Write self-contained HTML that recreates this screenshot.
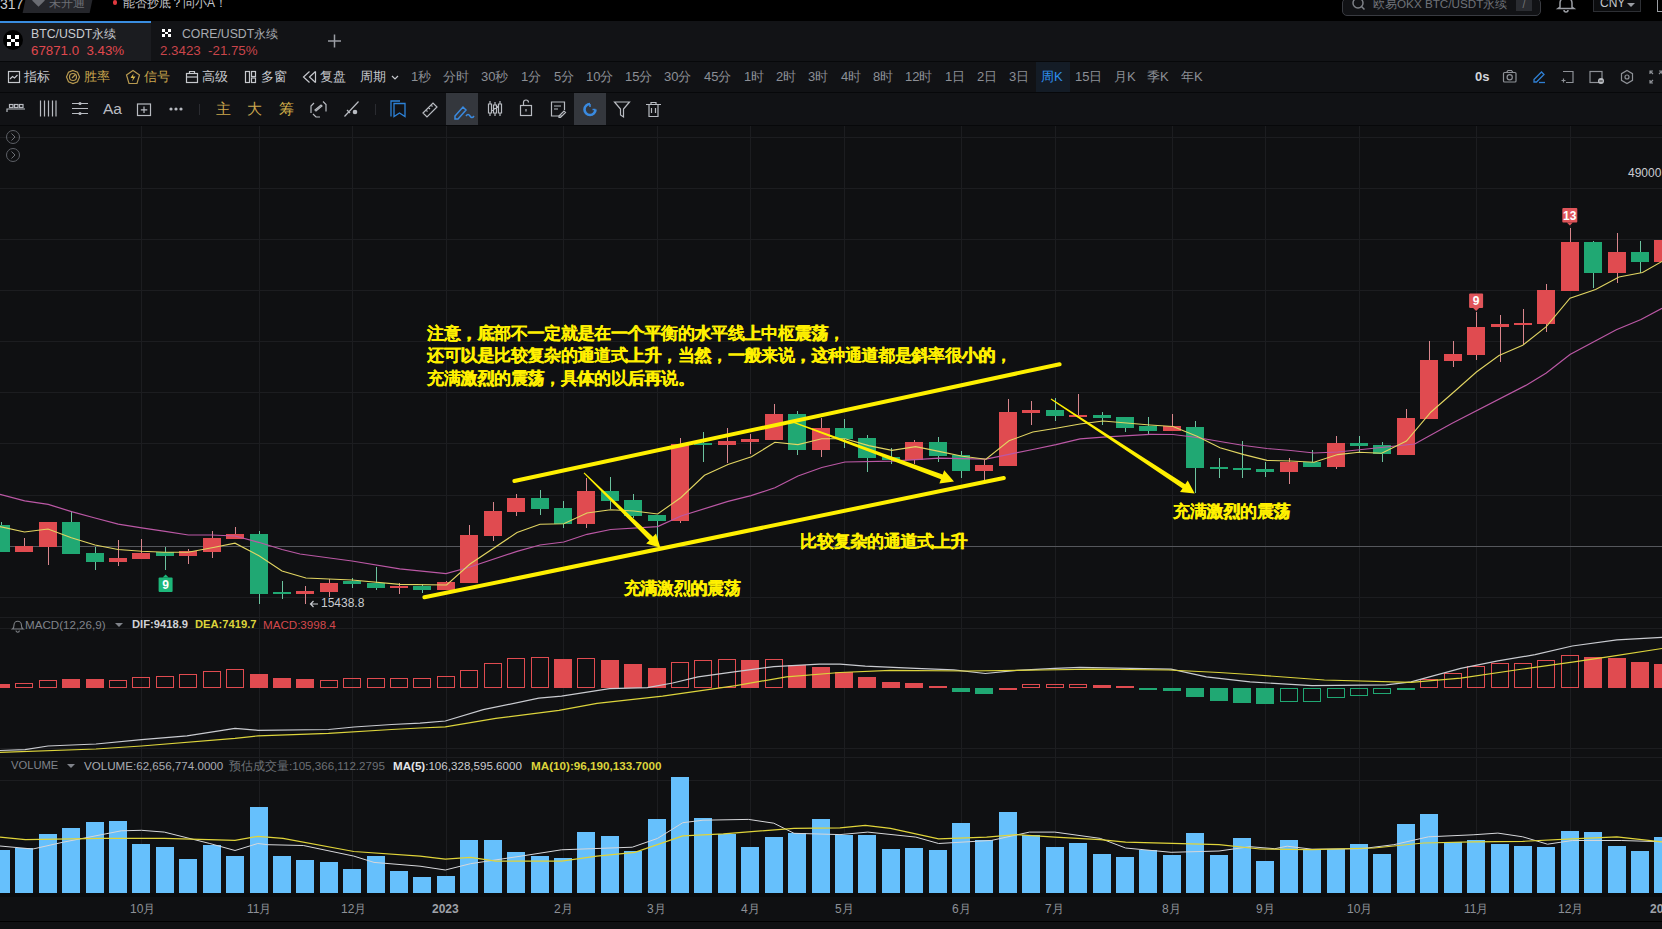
<!DOCTYPE html>
<html><head><meta charset="utf-8">
<style>
*{margin:0;padding:0;box-sizing:border-box}
html,body{width:1662px;height:929px;overflow:hidden;background:#0f1012;font-family:"Liberation Sans",sans-serif}
.a{position:absolute;white-space:nowrap}
#top{left:0;top:0;width:1662px;height:21px;background:#000}
#tabs{left:0;top:21px;width:1662px;height:41px;background:#121316}
#tb1{left:0;top:62px;width:1662px;height:30px;background:#111215}
#tb2{left:0;top:93px;width:1662px;height:32px;background:#111215}
.tf{top:70px;font-size:13px;color:#8c8f96;line-height:14px}
.t1{top:70px;font-size:13px;color:#c6c8cd;line-height:14px}
.gold{color:#cba74e}
.ann{font-size:16.7px;letter-spacing:-0.3px;font-weight:bold;color:#fff000;line-height:22.5px;text-shadow:0.4px 0 0 #fff000}
.xl{top:902.5px;font-size:12px;color:#8d9097;line-height:13px}
svg{position:absolute;left:0;top:0}
</style></head><body>
<div class="a" id="top"></div>
<div class="a" id="tabs"></div>
<div class="a" style="left:0;top:23px;width:151px;height:38px;background:#1b1c20"></div>
<div class="a" style="left:0;top:21px;width:151px;height:2px;background:#3a8de0"></div>
<div class="a" id="tb1"></div>
<div class="a" id="tb2"></div>
<div class="a" style="left:0;top:125px;width:1662px;height:1px;background:#07080a"></div>
<div class="a" style="left:0;top:92px;width:1662px;height:1px;background:#07080a"></div>
<div class="a" style="left:0;top:61px;width:1662px;height:1px;background:#07080a"></div>
<div class="a" style="left:0;top:893px;width:1662px;height:4px;background:#0a0b0d"></div>
<div class="a" style="left:0;top:921px;width:1662px;height:1px;background:#000"></div>

<svg width="1662" height="929" viewBox="0 0 1662 929">
<line x1="0" y1="137.5" x2="1662" y2="137.5" stroke="#1c1d20" stroke-width="1"/>
<line x1="0" y1="188.5" x2="1662" y2="188.5" stroke="#1c1d20" stroke-width="1"/>
<line x1="0" y1="239.5" x2="1662" y2="239.5" stroke="#1c1d20" stroke-width="1"/>
<line x1="0" y1="290.5" x2="1662" y2="290.5" stroke="#1c1d20" stroke-width="1"/>
<line x1="0" y1="341.5" x2="1662" y2="341.5" stroke="#1c1d20" stroke-width="1"/>
<line x1="0" y1="392.5" x2="1662" y2="392.5" stroke="#1c1d20" stroke-width="1"/>
<line x1="0" y1="443.5" x2="1662" y2="443.5" stroke="#1c1d20" stroke-width="1"/>
<line x1="0" y1="495.5" x2="1662" y2="495.5" stroke="#1c1d20" stroke-width="1"/>
<line x1="0" y1="597.5" x2="1662" y2="597.5" stroke="#1c1d20" stroke-width="1"/>
<line x1="0" y1="617.5" x2="1662" y2="617.5" stroke="#1c1d20" stroke-width="1"/>
<line x1="0" y1="628.5" x2="1662" y2="628.5" stroke="#1c1d20" stroke-width="1"/>
<line x1="0" y1="748.5" x2="1662" y2="748.5" stroke="#1c1d20" stroke-width="1"/>
<line x1="0" y1="757.5" x2="1662" y2="757.5" stroke="#1c1d20" stroke-width="1"/>
<line x1="0" y1="780.5" x2="1662" y2="780.5" stroke="#1c1d20" stroke-width="1"/>
<line x1="141.5" y1="126" x2="141.5" y2="893" stroke="#1c1d20" stroke-width="1"/>
<line x1="259.5" y1="126" x2="259.5" y2="893" stroke="#1c1d20" stroke-width="1"/>
<line x1="352.5" y1="126" x2="352.5" y2="893" stroke="#1c1d20" stroke-width="1"/>
<line x1="446.5" y1="126" x2="446.5" y2="893" stroke="#1c1d20" stroke-width="1"/>
<line x1="563.5" y1="126" x2="563.5" y2="893" stroke="#1c1d20" stroke-width="1"/>
<line x1="657.5" y1="126" x2="657.5" y2="893" stroke="#1c1d20" stroke-width="1"/>
<line x1="750.5" y1="126" x2="750.5" y2="893" stroke="#1c1d20" stroke-width="1"/>
<line x1="844.5" y1="126" x2="844.5" y2="893" stroke="#1c1d20" stroke-width="1"/>
<line x1="961.5" y1="126" x2="961.5" y2="893" stroke="#1c1d20" stroke-width="1"/>
<line x1="1055.5" y1="126" x2="1055.5" y2="893" stroke="#1c1d20" stroke-width="1"/>
<line x1="1172.5" y1="126" x2="1172.5" y2="893" stroke="#1c1d20" stroke-width="1"/>
<line x1="1265.5" y1="126" x2="1265.5" y2="893" stroke="#1c1d20" stroke-width="1"/>
<line x1="1359.5" y1="126" x2="1359.5" y2="893" stroke="#1c1d20" stroke-width="1"/>
<line x1="1476.5" y1="126" x2="1476.5" y2="893" stroke="#1c1d20" stroke-width="1"/>
<line x1="1570.5" y1="126" x2="1570.5" y2="893" stroke="#1c1d20" stroke-width="1"/>
<line x1="0" y1="546.5" x2="1662" y2="546.5" stroke="#55575c" stroke-width="1"/>
<rect x="1" y="522" width="1" height="30" fill="#6cc39f"/>
<rect x="-8" y="525" width="18" height="27" fill="#20a873"/>
<rect x="24" y="538" width="1" height="14" fill="#d9868c"/>
<rect x="15" y="546" width="18" height="6" fill="#e04b50"/>
<rect x="48" y="522" width="1" height="43" fill="#d9868c"/>
<rect x="39" y="522" width="18" height="25" fill="#e04b50"/>
<rect x="71" y="511" width="1" height="43" fill="#6cc39f"/>
<rect x="62" y="522" width="18" height="32" fill="#20a873"/>
<rect x="95" y="547" width="1" height="23" fill="#6cc39f"/>
<rect x="86" y="553" width="18" height="9" fill="#20a873"/>
<rect x="118" y="540" width="1" height="26" fill="#d9868c"/>
<rect x="109" y="558" width="18" height="4" fill="#e04b50"/>
<rect x="141" y="539" width="1" height="20" fill="#d9868c"/>
<rect x="132" y="553" width="18" height="6" fill="#e04b50"/>
<rect x="165" y="547" width="1" height="23" fill="#6cc39f"/>
<rect x="156" y="552" width="18" height="4" fill="#20a873"/>
<rect x="188" y="549" width="1" height="15" fill="#d9868c"/>
<rect x="179" y="551" width="18" height="5" fill="#e04b50"/>
<rect x="212" y="531" width="1" height="27" fill="#d9868c"/>
<rect x="203" y="538" width="18" height="14" fill="#e04b50"/>
<rect x="235" y="527" width="1" height="12" fill="#d9868c"/>
<rect x="226" y="534" width="18" height="5" fill="#e04b50"/>
<rect x="259" y="531" width="1" height="73" fill="#6cc39f"/>
<rect x="250" y="534" width="18" height="60" fill="#20a873"/>
<rect x="282" y="581" width="1" height="18" fill="#6cc39f"/>
<rect x="273" y="592" width="18" height="2" fill="#20a873"/>
<rect x="305" y="586" width="1" height="18" fill="#d9868c"/>
<rect x="296" y="591" width="18" height="3" fill="#e04b50"/>
<rect x="329" y="579" width="1" height="18" fill="#d9868c"/>
<rect x="320" y="583" width="18" height="9" fill="#e04b50"/>
<rect x="352" y="578" width="1" height="10" fill="#6cc39f"/>
<rect x="343" y="581" width="18" height="3" fill="#20a873"/>
<rect x="376" y="567" width="1" height="23" fill="#6cc39f"/>
<rect x="367" y="583" width="18" height="5" fill="#20a873"/>
<rect x="399" y="583" width="1" height="11" fill="#d9868c"/>
<rect x="390" y="586" width="18" height="2" fill="#e04b50"/>
<rect x="422" y="584" width="1" height="9" fill="#6cc39f"/>
<rect x="413" y="586" width="18" height="4" fill="#20a873"/>
<rect x="446" y="581" width="1" height="9" fill="#d9868c"/>
<rect x="437" y="582" width="18" height="8" fill="#e04b50"/>
<rect x="469" y="525" width="1" height="58" fill="#d9868c"/>
<rect x="460" y="535" width="18" height="48" fill="#e04b50"/>
<rect x="493" y="502" width="1" height="39" fill="#d9868c"/>
<rect x="484" y="511" width="18" height="25" fill="#e04b50"/>
<rect x="516" y="494" width="1" height="22" fill="#d9868c"/>
<rect x="507" y="498" width="18" height="14" fill="#e04b50"/>
<rect x="540" y="490" width="1" height="25" fill="#6cc39f"/>
<rect x="531" y="498" width="18" height="11" fill="#20a873"/>
<rect x="563" y="501" width="1" height="27" fill="#6cc39f"/>
<rect x="554" y="508" width="18" height="16" fill="#20a873"/>
<rect x="586" y="478" width="1" height="50" fill="#d9868c"/>
<rect x="577" y="491" width="18" height="33" fill="#e04b50"/>
<rect x="610" y="477" width="1" height="32" fill="#6cc39f"/>
<rect x="601" y="491" width="18" height="10" fill="#20a873"/>
<rect x="633" y="494" width="1" height="24" fill="#6cc39f"/>
<rect x="624" y="500" width="18" height="16" fill="#20a873"/>
<rect x="657" y="515" width="1" height="25" fill="#6cc39f"/>
<rect x="648" y="515" width="18" height="6" fill="#20a873"/>
<rect x="680" y="438" width="1" height="85" fill="#d9868c"/>
<rect x="671" y="444" width="18" height="77" fill="#e04b50"/>
<rect x="703" y="432" width="1" height="30" fill="#6cc39f"/>
<rect x="694" y="443" width="18" height="2" fill="#20a873"/>
<rect x="727" y="428" width="1" height="35" fill="#d9868c"/>
<rect x="718" y="441" width="18" height="4" fill="#e04b50"/>
<rect x="750" y="434" width="1" height="20" fill="#d9868c"/>
<rect x="741" y="439" width="18" height="3" fill="#e04b50"/>
<rect x="774" y="404" width="1" height="36" fill="#d9868c"/>
<rect x="765" y="414" width="18" height="26" fill="#e04b50"/>
<rect x="797" y="411" width="1" height="44" fill="#6cc39f"/>
<rect x="788" y="414" width="18" height="36" fill="#20a873"/>
<rect x="821" y="418" width="1" height="39" fill="#d9868c"/>
<rect x="812" y="428" width="18" height="22" fill="#e04b50"/>
<rect x="844" y="419" width="1" height="29" fill="#6cc39f"/>
<rect x="835" y="428" width="18" height="11" fill="#20a873"/>
<rect x="867" y="435" width="1" height="37" fill="#6cc39f"/>
<rect x="858" y="438" width="18" height="20" fill="#20a873"/>
<rect x="891" y="448" width="1" height="16" fill="#6cc39f"/>
<rect x="882" y="457" width="18" height="3" fill="#20a873"/>
<rect x="914" y="440" width="1" height="24" fill="#d9868c"/>
<rect x="905" y="442" width="18" height="18" fill="#e04b50"/>
<rect x="938" y="437" width="1" height="25" fill="#6cc39f"/>
<rect x="929" y="442" width="18" height="14" fill="#20a873"/>
<rect x="961" y="451" width="1" height="27" fill="#6cc39f"/>
<rect x="952" y="455" width="18" height="16" fill="#20a873"/>
<rect x="984" y="460" width="1" height="24" fill="#d9868c"/>
<rect x="975" y="465" width="18" height="6" fill="#e04b50"/>
<rect x="1008" y="399" width="1" height="67" fill="#d9868c"/>
<rect x="999" y="412" width="18" height="54" fill="#e04b50"/>
<rect x="1031" y="401" width="1" height="24" fill="#d9868c"/>
<rect x="1022" y="410" width="18" height="3" fill="#e04b50"/>
<rect x="1055" y="398" width="1" height="23" fill="#6cc39f"/>
<rect x="1046" y="410" width="18" height="6" fill="#20a873"/>
<rect x="1078" y="394" width="1" height="23" fill="#d9868c"/>
<rect x="1069" y="415" width="18" height="2" fill="#e04b50"/>
<rect x="1102" y="412" width="1" height="13" fill="#6cc39f"/>
<rect x="1093" y="415" width="18" height="3" fill="#20a873"/>
<rect x="1125" y="417" width="1" height="15" fill="#6cc39f"/>
<rect x="1116" y="417" width="18" height="11" fill="#20a873"/>
<rect x="1148" y="417" width="1" height="18" fill="#6cc39f"/>
<rect x="1139" y="426" width="18" height="5" fill="#20a873"/>
<rect x="1172" y="414" width="1" height="17" fill="#d9868c"/>
<rect x="1163" y="426" width="18" height="5" fill="#e04b50"/>
<rect x="1195" y="421" width="1" height="72" fill="#6cc39f"/>
<rect x="1186" y="427" width="18" height="41" fill="#20a873"/>
<rect x="1219" y="458" width="1" height="20" fill="#6cc39f"/>
<rect x="1210" y="467" width="18" height="2" fill="#20a873"/>
<rect x="1242" y="441" width="1" height="37" fill="#6cc39f"/>
<rect x="1233" y="468" width="18" height="2" fill="#20a873"/>
<rect x="1265" y="462" width="1" height="15" fill="#6cc39f"/>
<rect x="1256" y="469" width="18" height="3" fill="#20a873"/>
<rect x="1289" y="458" width="1" height="26" fill="#d9868c"/>
<rect x="1280" y="462" width="18" height="10" fill="#e04b50"/>
<rect x="1312" y="450" width="1" height="17" fill="#6cc39f"/>
<rect x="1303" y="462" width="18" height="5" fill="#20a873"/>
<rect x="1336" y="436" width="1" height="33" fill="#d9868c"/>
<rect x="1327" y="443" width="18" height="24" fill="#e04b50"/>
<rect x="1359" y="436" width="1" height="17" fill="#6cc39f"/>
<rect x="1350" y="443" width="18" height="3" fill="#20a873"/>
<rect x="1382" y="442" width="1" height="20" fill="#6cc39f"/>
<rect x="1373" y="445" width="18" height="9" fill="#20a873"/>
<rect x="1406" y="409" width="1" height="46" fill="#d9868c"/>
<rect x="1397" y="418" width="18" height="37" fill="#e04b50"/>
<rect x="1429" y="341" width="1" height="78" fill="#d9868c"/>
<rect x="1420" y="360" width="18" height="59" fill="#e04b50"/>
<rect x="1453" y="341" width="1" height="26" fill="#d9868c"/>
<rect x="1444" y="354" width="18" height="7" fill="#e04b50"/>
<rect x="1476" y="312" width="1" height="48" fill="#d9868c"/>
<rect x="1467" y="327" width="18" height="28" fill="#e04b50"/>
<rect x="1500" y="315" width="1" height="47" fill="#d9868c"/>
<rect x="1491" y="324" width="18" height="3" fill="#e04b50"/>
<rect x="1523" y="309" width="1" height="36" fill="#d9868c"/>
<rect x="1514" y="323" width="18" height="2" fill="#e04b50"/>
<rect x="1546" y="284" width="1" height="48" fill="#d9868c"/>
<rect x="1537" y="290" width="18" height="34" fill="#e04b50"/>
<rect x="1570" y="228" width="1" height="63" fill="#d9868c"/>
<rect x="1561" y="242" width="18" height="49" fill="#e04b50"/>
<rect x="1593" y="241" width="1" height="47" fill="#6cc39f"/>
<rect x="1584" y="242" width="18" height="31" fill="#20a873"/>
<rect x="1617" y="233" width="1" height="50" fill="#d9868c"/>
<rect x="1608" y="252" width="18" height="21" fill="#e04b50"/>
<rect x="1640" y="241" width="1" height="32" fill="#6cc39f"/>
<rect x="1631" y="252" width="18" height="10" fill="#20a873"/>
<rect x="1663" y="232" width="1" height="30" fill="#d9868c"/>
<rect x="1654" y="240" width="18" height="22" fill="#e04b50"/>
<polyline points="0,494.4 24.7,500.8 48.2,504.4 71.5,511.6 95,518 118.2,524.2 141.7,527.8 165.2,531.4 188.4,535 211.7,535 235.2,536 258.7,542.3 282.1,549.5 300,554 352,561 399.7,568.8 446,573.7 470,567 517,551.4 540,545 563.8,542 587,534.3 610.7,529.5 657.6,526.6 681,516 728,501.4 751,495.6 774.9,487.8 798,476 821.8,467.5 845,462 892,461.1 939,458.2 985.9,459.2 1009,454.3 1032.8,449.5 1056,444.6 1080,438.8 1103,437.2 1150,434.3 1173,434.5 1197,437.5 1220,441.5 1243.9,445.5 1267,448.5 1290.8,450.5 1314,453 1337.7,452 1414.7,444 1451.7,423.5 1525.8,385.4 1546.3,373 1570,354.5 1616.3,329.8 1641,319.5 1662,308.2" fill="none" stroke="#bb58a5" stroke-width="1.2"/>
<polyline points="0,526.6 24.5,532 48,529 71.4,537.8 95,545 118,549.5 141.7,551.3 165,552.2 188,552.2 212,547.7 235,543.2 259,555.8 282,571 305.9,578 352,580 399.7,584.4 446.6,585 470,564 517,532.6 540,524.3 563.8,523.7 587,513 610.7,509.7 634,511 657.6,514 681,497.5 704.5,475.3 728,464.6 751.4,456.8 774.9,442.3 798,444.6 821.8,438.8 845,438.8 868.7,445.6 892,450.4 915.6,446.6 939,451.4 962.5,456.3 985.9,459.2 1009,440.8 1032.8,432 1056,428.2 1080,424 1103,421 1150,425 1173,426.5 1197,436.2 1220,447.8 1243.9,454.6 1267,460.4 1290.8,461 1314,462.3 1337.7,454.6 1359,452.3 1381.7,453.3 1406.4,441 1431,412 1455,391 1476.4,372 1499,355.6 1522.7,345.3 1546.3,326.7 1570,298.2 1595.6,289.5 1619,277 1642.5,272.5 1662,261.4" fill="none" stroke="#e2d562" stroke-width="1.1"/>
<rect x="-8" y="684" width="18" height="4" fill="#e04b50"/>
<rect x="15.5" y="683.5" width="17" height="4" fill="none" stroke="#e04b50" stroke-width="1"/>
<rect x="39.5" y="680.5" width="17" height="7" fill="none" stroke="#e04b50" stroke-width="1"/>
<rect x="62" y="679" width="18" height="9" fill="#e04b50"/>
<rect x="86" y="679" width="18" height="9" fill="#e04b50"/>
<rect x="109.5" y="680.5" width="17" height="7" fill="none" stroke="#e04b50" stroke-width="1"/>
<rect x="132.5" y="677.5" width="17" height="10" fill="none" stroke="#e04b50" stroke-width="1"/>
<rect x="156.5" y="676.5" width="17" height="11" fill="none" stroke="#e04b50" stroke-width="1"/>
<rect x="179.5" y="674.5" width="17" height="13" fill="none" stroke="#e04b50" stroke-width="1"/>
<rect x="203.5" y="671.5" width="17" height="16" fill="none" stroke="#e04b50" stroke-width="1"/>
<rect x="226.5" y="669.5" width="17" height="18" fill="none" stroke="#e04b50" stroke-width="1"/>
<rect x="250" y="674" width="18" height="14" fill="#e04b50"/>
<rect x="273" y="678" width="18" height="10" fill="#e04b50"/>
<rect x="296" y="679" width="18" height="9" fill="#e04b50"/>
<rect x="320.5" y="680.5" width="17" height="7" fill="none" stroke="#e04b50" stroke-width="1"/>
<rect x="343.5" y="678.5" width="17" height="9" fill="none" stroke="#e04b50" stroke-width="1"/>
<rect x="367.5" y="678.5" width="17" height="9" fill="none" stroke="#e04b50" stroke-width="1"/>
<rect x="390.5" y="678.5" width="17" height="9" fill="none" stroke="#e04b50" stroke-width="1"/>
<rect x="413.5" y="678.5" width="17" height="9" fill="none" stroke="#e04b50" stroke-width="1"/>
<rect x="437.5" y="676.5" width="17" height="11" fill="none" stroke="#e04b50" stroke-width="1"/>
<rect x="460.5" y="670.5" width="17" height="17" fill="none" stroke="#e04b50" stroke-width="1"/>
<rect x="484.5" y="663.5" width="17" height="24" fill="none" stroke="#e04b50" stroke-width="1"/>
<rect x="507.5" y="658.5" width="17" height="29" fill="none" stroke="#e04b50" stroke-width="1"/>
<rect x="531.5" y="657.5" width="17" height="30" fill="none" stroke="#e04b50" stroke-width="1"/>
<rect x="554" y="659" width="18" height="29" fill="#e04b50"/>
<rect x="577.5" y="658.5" width="17" height="29" fill="none" stroke="#e04b50" stroke-width="1"/>
<rect x="601" y="660" width="18" height="28" fill="#e04b50"/>
<rect x="624" y="664" width="18" height="24" fill="#e04b50"/>
<rect x="648" y="668" width="18" height="20" fill="#e04b50"/>
<rect x="671.5" y="662.5" width="17" height="25" fill="none" stroke="#e04b50" stroke-width="1"/>
<rect x="694.5" y="660.5" width="17" height="27" fill="none" stroke="#e04b50" stroke-width="1"/>
<rect x="718.5" y="659.5" width="17" height="28" fill="none" stroke="#e04b50" stroke-width="1"/>
<rect x="741" y="660" width="18" height="28" fill="#e04b50"/>
<rect x="765.5" y="659.5" width="17" height="28" fill="none" stroke="#e04b50" stroke-width="1"/>
<rect x="788" y="665" width="18" height="23" fill="#e04b50"/>
<rect x="812" y="667" width="18" height="21" fill="#e04b50"/>
<rect x="835" y="672" width="18" height="16" fill="#e04b50"/>
<rect x="858" y="677" width="18" height="11" fill="#e04b50"/>
<rect x="882" y="682" width="18" height="6" fill="#e04b50"/>
<rect x="905" y="683" width="18" height="5" fill="#e04b50"/>
<rect x="929" y="686" width="18" height="2" fill="#e04b50"/>
<rect x="952" y="688" width="18" height="4" fill="#20a873"/>
<rect x="975" y="688" width="18" height="6" fill="#20a873"/>
<rect x="999" y="688" width="18" height="2" fill="#e04b50"/>
<rect x="1022.5" y="684.5" width="17" height="3" fill="none" stroke="#e04b50" stroke-width="1"/>
<rect x="1046.5" y="684.5" width="17" height="3" fill="none" stroke="#e04b50" stroke-width="1"/>
<rect x="1069.5" y="684.5" width="17" height="3" fill="none" stroke="#e04b50" stroke-width="1"/>
<rect x="1093" y="685" width="18" height="3" fill="#e04b50"/>
<rect x="1116" y="686" width="18" height="2" fill="#e04b50"/>
<rect x="1139" y="688" width="18" height="2" fill="#20a873"/>
<rect x="1163" y="688" width="18" height="3" fill="#20a873"/>
<rect x="1186" y="688" width="18" height="9" fill="#20a873"/>
<rect x="1210" y="688" width="18" height="13" fill="#20a873"/>
<rect x="1233" y="688" width="18" height="15" fill="#20a873"/>
<rect x="1256" y="688" width="18" height="16" fill="#20a873"/>
<rect x="1280.5" y="688.5" width="17" height="13" fill="none" stroke="#20a873" stroke-width="1"/>
<rect x="1303.5" y="688.5" width="17" height="13" fill="none" stroke="#20a873" stroke-width="1"/>
<rect x="1327.5" y="688.5" width="17" height="9" fill="none" stroke="#20a873" stroke-width="1"/>
<rect x="1350.5" y="688.5" width="17" height="7" fill="none" stroke="#20a873" stroke-width="1"/>
<rect x="1373.5" y="688.5" width="17" height="5" fill="none" stroke="#20a873" stroke-width="1"/>
<rect x="1397" y="688" width="18" height="2" fill="#20a873"/>
<rect x="1420.5" y="679.5" width="17" height="8" fill="none" stroke="#e04b50" stroke-width="1"/>
<rect x="1444.5" y="673.5" width="17" height="14" fill="none" stroke="#e04b50" stroke-width="1"/>
<rect x="1467.5" y="666.5" width="17" height="21" fill="none" stroke="#e04b50" stroke-width="1"/>
<rect x="1491.5" y="663.5" width="17" height="24" fill="none" stroke="#e04b50" stroke-width="1"/>
<rect x="1514.5" y="663.5" width="17" height="24" fill="none" stroke="#e04b50" stroke-width="1"/>
<rect x="1537.5" y="660.5" width="17" height="27" fill="none" stroke="#e04b50" stroke-width="1"/>
<rect x="1561.5" y="655.5" width="17" height="32" fill="none" stroke="#e04b50" stroke-width="1"/>
<rect x="1584" y="657" width="18" height="31" fill="#e04b50"/>
<rect x="1608" y="658" width="18" height="30" fill="#e04b50"/>
<rect x="1631" y="662" width="18" height="26" fill="#e04b50"/>
<rect x="1654" y="664" width="18" height="24" fill="#e04b50"/>
<polyline points="0,750.5 25,749.7 48,746 96,744 141.5,739.6 187,735.8 235,728.3 258,730.3 328.5,729.5 354,727 391.7,724.5 420,723.2 445.3,721 483.2,709.6 538.8,698.2 561.5,696.2 609.5,688.6 647.4,687.6 672.7,683 698,676.8 735.9,671.7 773.8,666.6 819.3,664.1 840,664.1 865.3,666.1 915.8,668.4 953.7,669.9 985.3,673.5 1016.9,670.4 1054.8,668.4 1080.1,667.4 1130.6,668.4 1171.1,669.2 1206.4,676.8 1250,681.9 1312,685.7 1386.3,684.9 1411.1,681.9 1460.7,668.3 1497.9,660.9 1535.1,654.7 1572.3,646 1616.9,639.8 1662,637.3" fill="none" stroke="#c9cbd0" stroke-width="1.2"/>
<polyline points="0,752.3 96,749 141.5,746 235,738.4 258,735.8 328.5,733.3 391.7,729.5 420,728 445.3,726.8 495.8,718.4 559,710.4 597,703.3 662.6,696.2 735.9,685.6 786.4,676.8 840,672.5 890.5,670.4 966.4,671 1042.2,670 1092.7,669.2 1168.5,670 1219,672.5 1250,674.5 1324.4,680 1411.1,682.4 1460.7,678.2 1522.7,669 1572.3,662.1 1609.5,656.6 1662,648.5" fill="none" stroke="#dcd43c" stroke-width="1.2"/>
<rect x="-8" y="850" width="18" height="43" fill="#66c0fc"/>
<rect x="15" y="848" width="18" height="45" fill="#66c0fc"/>
<rect x="39" y="834" width="18" height="59" fill="#66c0fc"/>
<rect x="62" y="828" width="18" height="65" fill="#66c0fc"/>
<rect x="86" y="822" width="18" height="71" fill="#66c0fc"/>
<rect x="109" y="821" width="18" height="72" fill="#66c0fc"/>
<rect x="132" y="844" width="18" height="49" fill="#66c0fc"/>
<rect x="156" y="847" width="18" height="46" fill="#66c0fc"/>
<rect x="179" y="859" width="18" height="34" fill="#66c0fc"/>
<rect x="203" y="845" width="18" height="48" fill="#66c0fc"/>
<rect x="226" y="856" width="18" height="37" fill="#66c0fc"/>
<rect x="250" y="807" width="18" height="86" fill="#66c0fc"/>
<rect x="273" y="856" width="18" height="37" fill="#66c0fc"/>
<rect x="296" y="860" width="18" height="33" fill="#66c0fc"/>
<rect x="320" y="862" width="18" height="31" fill="#66c0fc"/>
<rect x="343" y="869" width="18" height="24" fill="#66c0fc"/>
<rect x="367" y="856" width="18" height="37" fill="#66c0fc"/>
<rect x="390" y="871" width="18" height="22" fill="#66c0fc"/>
<rect x="413" y="877" width="18" height="16" fill="#66c0fc"/>
<rect x="437" y="876" width="18" height="17" fill="#66c0fc"/>
<rect x="460" y="840" width="18" height="53" fill="#66c0fc"/>
<rect x="484" y="840" width="18" height="53" fill="#66c0fc"/>
<rect x="507" y="852" width="18" height="41" fill="#66c0fc"/>
<rect x="531" y="856" width="18" height="37" fill="#66c0fc"/>
<rect x="554" y="858" width="18" height="35" fill="#66c0fc"/>
<rect x="577" y="832" width="18" height="61" fill="#66c0fc"/>
<rect x="601" y="836" width="18" height="57" fill="#66c0fc"/>
<rect x="624" y="851" width="18" height="42" fill="#66c0fc"/>
<rect x="648" y="819" width="18" height="74" fill="#66c0fc"/>
<rect x="671" y="777" width="18" height="116" fill="#66c0fc"/>
<rect x="694" y="818" width="18" height="75" fill="#66c0fc"/>
<rect x="718" y="834" width="18" height="59" fill="#66c0fc"/>
<rect x="741" y="847" width="18" height="46" fill="#66c0fc"/>
<rect x="765" y="837" width="18" height="56" fill="#66c0fc"/>
<rect x="788" y="833" width="18" height="60" fill="#66c0fc"/>
<rect x="812" y="819" width="18" height="74" fill="#66c0fc"/>
<rect x="835" y="835" width="18" height="58" fill="#66c0fc"/>
<rect x="858" y="835" width="18" height="58" fill="#66c0fc"/>
<rect x="882" y="849" width="18" height="44" fill="#66c0fc"/>
<rect x="905" y="848" width="18" height="45" fill="#66c0fc"/>
<rect x="929" y="850" width="18" height="43" fill="#66c0fc"/>
<rect x="952" y="823" width="18" height="70" fill="#66c0fc"/>
<rect x="975" y="840" width="18" height="53" fill="#66c0fc"/>
<rect x="999" y="812" width="18" height="81" fill="#66c0fc"/>
<rect x="1022" y="835" width="18" height="58" fill="#66c0fc"/>
<rect x="1046" y="847" width="18" height="46" fill="#66c0fc"/>
<rect x="1069" y="843" width="18" height="50" fill="#66c0fc"/>
<rect x="1093" y="854" width="18" height="39" fill="#66c0fc"/>
<rect x="1116" y="857" width="18" height="36" fill="#66c0fc"/>
<rect x="1139" y="850" width="18" height="43" fill="#66c0fc"/>
<rect x="1163" y="855" width="18" height="38" fill="#66c0fc"/>
<rect x="1186" y="833" width="18" height="60" fill="#66c0fc"/>
<rect x="1210" y="855" width="18" height="38" fill="#66c0fc"/>
<rect x="1233" y="838" width="18" height="55" fill="#66c0fc"/>
<rect x="1256" y="861" width="18" height="32" fill="#66c0fc"/>
<rect x="1280" y="840" width="18" height="53" fill="#66c0fc"/>
<rect x="1303" y="849" width="18" height="44" fill="#66c0fc"/>
<rect x="1327" y="849" width="18" height="44" fill="#66c0fc"/>
<rect x="1350" y="844" width="18" height="49" fill="#66c0fc"/>
<rect x="1373" y="854" width="18" height="39" fill="#66c0fc"/>
<rect x="1397" y="824" width="18" height="69" fill="#66c0fc"/>
<rect x="1420" y="814" width="18" height="79" fill="#66c0fc"/>
<rect x="1444" y="842" width="18" height="51" fill="#66c0fc"/>
<rect x="1467" y="840" width="18" height="53" fill="#66c0fc"/>
<rect x="1491" y="844" width="18" height="49" fill="#66c0fc"/>
<rect x="1514" y="846" width="18" height="47" fill="#66c0fc"/>
<rect x="1537" y="847" width="18" height="46" fill="#66c0fc"/>
<rect x="1561" y="831" width="18" height="62" fill="#66c0fc"/>
<rect x="1584" y="832" width="18" height="61" fill="#66c0fc"/>
<rect x="1608" y="846" width="18" height="47" fill="#66c0fc"/>
<rect x="1631" y="851" width="18" height="42" fill="#66c0fc"/>
<rect x="1654" y="837" width="18" height="56" fill="#66c0fc"/>
<polyline points="0,846 32.9,849 63.2,842.2 121.3,830.8 141.5,830.3 164.3,832.1 209.8,843.5 235,850.5 257.8,843.5 267.9,844.7 303.3,845.5 353.8,856.1 374,862.4 420,866.2 445.3,870 470.5,863.7 521.1,856.1 561.5,849.8 632.3,847.2 657.6,838.4 682.8,822.7 703,820.2 748.5,819.4 773.8,823.2 794,833.3 840,834.6 867.8,832.1 915.8,837.1 938.6,843.5 991.6,840.4 1029.5,832.1 1054.8,832.1 1100.3,838.4 1125.6,848 1171.1,852.3 1219,851 1250,846.7 1274.8,848.7 1287.2,846.2 1312,849.2 1361.6,848.7 1393.8,844.7 1428.5,836.8 1473.1,834.8 1497.9,833.1 1522.7,836.8 1547.5,844.2 1572.3,840.5 1621.8,840.5 1662,841.8" fill="none" stroke="#d6d7da" stroke-width="1"/>
<polyline points="0,837.1 25.3,839.7 101.1,838.4 164.3,838.4 235,840.4 257.8,836.4 283,838.4 353.8,851.5 420,856.1 445.3,859.1 470.5,857.3 495.8,861.1 561.5,861.1 596.9,856.1 634.8,852.3 682.8,835.9 723.3,833.8 794,828.3 840,827.8 865.3,825.3 890.5,828.3 938.6,838.9 986.6,837.1 1016.9,834.6 1054.8,837.1 1100.3,839.7 1125.6,842.2 1219,844.7 1260,849 1312,849.7 1374,848 1423.5,843 1473.1,841.8 1522.7,841.3 1572.3,838.8 1616.9,836.8 1662,841.8" fill="none" stroke="#e0d43a" stroke-width="1.2"/>
<line x1="514.4" y1="481" x2="1059.6" y2="364.2" stroke="#fff000" stroke-width="4" stroke-linecap="round"/>
<line x1="424.4" y1="597.3" x2="1003.8" y2="478" stroke="#fff000" stroke-width="4" stroke-linecap="round"/>
<polygon points="583.6,473.3 649.4,540.4 646.2,543.6 660.4,547.7 656,533.6 652.9,536.8 584.4,472.5" fill="#fff000"/>
<polygon points="789.8,421.6 940.9,479.3 939.4,483.5 954,481.4 944.2,470.3 942.7,474.6 790.2,420.4" fill="#fff000"/>
<polygon points="1050.7,399.5 1182.5,488.4 1180,492.1 1194.7,493.4 1187.7,480.4 1185.2,484.2 1051.3,398.5" fill="#fff000"/>
<rect x="158.6" y="577.5" width="14" height="14.5" fill="#1db77a" rx="1"/><polygon points="162.6,577.5 168.6,577.5 165.6,574.5" fill="#1db77a"/><text x="165.6" y="589" text-anchor="middle" font-family="Liberation Sans" font-weight="bold" font-size="12" fill="#fff">9</text>
<rect x="1469.1" y="293.4" width="14" height="14.5" fill="#e0555a" rx="1"/><polygon points="1473.1,307.9 1479.1,307.9 1476.1,310.9" fill="#e0555a"/><text x="1476.1" y="304.9" text-anchor="middle" font-family="Liberation Sans" font-weight="bold" font-size="12" fill="#fff">9</text>
<rect x="1562.3" y="208" width="15" height="14.5" fill="#e0555a" rx="1"/><polygon points="1566.8,222.5 1572.8,222.5 1569.8,225.5" fill="#e0555a"/><text x="1569.8" y="219.5" text-anchor="middle" font-family="Liberation Sans" font-weight="bold" font-size="12" fill="#fff">13</text>
</svg>

<!-- top bar -->
<div class="a" style="left:0;top:-3px;font-size:14px;color:#c9cbd0;line-height:14px">317</div>
<div class="a" style="left:24px;top:0;width:67px;height:13px;background:#25262b;transform:skewX(-12deg)"></div>
<div class="a" style="left:34px;top:-4px;width:9px;height:9px;background:#6a6c72;transform:rotate(45deg)"></div>
<div class="a" style="left:49px;top:-4px;font-size:12px;color:#6d6f75;line-height:14px">未开通</div>
<div class="a" style="left:113px;top:0px;width:4px;height:5px;background:#e0383e;border-radius:2px"></div>
<div class="a" style="left:123px;top:-4px;font-size:12px;color:#c4c6cb;line-height:14px">能否抄底？问小A！</div>
<div class="a" style="left:1342px;top:-2px;width:199px;height:18px;border:1px solid #393b41;border-radius:5px;background:#111215"></div>
<svg width="20" height="20" style="position:absolute;left:1350px;top:0"><circle cx="8" cy="3" r="5" fill="none" stroke="#7d8086" stroke-width="1.5"/><line x1="11.5" y1="6.5" x2="14.5" y2="9.5" stroke="#7d8086" stroke-width="1.5"/></svg>
<div class="a" style="left:1373px;top:-3px;font-size:11.7px;color:#6f7279;line-height:14px">欧易OKX BTC/USDT永续</div>
<div class="a" style="left:1516px;top:0;width:16px;height:11px;background:#2a2c31;color:#777;font-size:10px;line-height:10px;text-align:center">/</div>
<svg width="30" height="20" style="position:absolute;left:1552px;top:0"><path d="M8 7 v-4 a6 6 0 0 1 12 0 v4 l2 1.5 h-16 z" fill="none" stroke="#9a9da3" stroke-width="1.5"/><path d="M12 10 a2 2 0 0 0 4 0" fill="none" stroke="#9a9da3" stroke-width="1.5"/></svg>
<div class="a" style="left:1593px;top:-2px;width:48px;height:14px;border:1px solid #2d2f34;background:#0c0d0f"></div>
<div class="a" style="left:1600px;top:-3px;font-size:12px;color:#c6c8cd;line-height:13px">CNY</div>
<div class="a" style="left:1627px;top:3px;width:0;height:0;border-left:4px solid transparent;border-right:4px solid transparent;border-top:4px solid #9a9da3"></div>
<div class="a" style="left:1657px;top:-2px;width:6px;height:14px;border:1.5px solid #9a9da3"></div>

<!-- tabs -->
<div class="a" style="left:3px;top:30px;width:20px;height:20px;border-radius:50%;background:#000"></div>
<svg width="1662" height="929" style="position:absolute;left:0;top:0">
<g fill="#fff">
<rect x="7" y="35" width="4" height="4"/><rect x="15" y="35" width="4" height="4"/><rect x="11" y="39" width="4" height="3"/><rect x="7" y="42" width="4" height="4"/><rect x="15" y="42" width="4" height="4"/>
<rect x="162" y="29" width="3" height="3"/><rect x="168" y="29" width="3" height="3"/><rect x="165" y="32" width="3" height="2"/><rect x="162" y="34" width="3" height="3"/><rect x="168" y="34" width="3" height="3"/>
</g>
<g fill="none" stroke="#9b9ea4" stroke-width="1.5">
<line x1="328" y1="41" x2="341" y2="41"/><line x1="334.5" y1="34.5" x2="334.5" y2="47.5"/>
</g>
</svg>
<div class="a" style="left:31px;top:27px;font-size:12.25px;color:#c9cbd0;line-height:14px">BTC/USDT永续</div>
<div class="a" style="left:31px;top:44px;font-size:13.3px;color:#e0484e;line-height:14px">67871.0&nbsp;&nbsp;3.43%</div>
<div class="a" style="left:182px;top:27px;font-size:12.25px;color:#a9acb2;line-height:14px">CORE/USDT永续</div>
<div class="a" style="left:160px;top:44px;font-size:13.3px;color:#c9454b;line-height:14px">2.3423&nbsp;&nbsp;-21.75%</div>

<!-- toolbar 1 -->
<div class="a t1" style="left:24px">指标</div>
<div class="a t1 gold" style="left:84px">胜率</div>
<div class="a t1 gold" style="left:144px">信号</div>
<div class="a t1" style="left:202px">高级</div>
<div class="a t1" style="left:261px">多窗</div>
<div class="a t1" style="left:320px">复盘</div>
<div class="a t1" style="left:360px">周期</div>
<div class="a tf" style="left:411px">1秒</div>
<div class="a tf" style="left:443px">分时</div>
<div class="a tf" style="left:481px">30秒</div>
<div class="a tf" style="left:521px">1分</div>
<div class="a tf" style="left:554px">5分</div>
<div class="a tf" style="left:586px">10分</div>
<div class="a tf" style="left:625px">15分</div>
<div class="a tf" style="left:664px">30分</div>
<div class="a tf" style="left:704px">45分</div>
<div class="a tf" style="left:744px">1时</div>
<div class="a tf" style="left:776px">2时</div>
<div class="a tf" style="left:808px">3时</div>
<div class="a tf" style="left:841px">4时</div>
<div class="a tf" style="left:873px">8时</div>
<div class="a tf" style="left:905px">12时</div>
<div class="a tf" style="left:945px">1日</div>
<div class="a tf" style="left:977px">2日</div>
<div class="a tf" style="left:1009px">3日</div>
<div class="a" style="left:1036px;top:62px;width:34px;height:30px;background:#141c26"></div>
<div class="a tf" style="left:1041px;color:#2f8ff0">周K</div>
<div class="a tf" style="left:1075px">15日</div>
<div class="a tf" style="left:1114px">月K</div>
<div class="a tf" style="left:1147px">季K</div>
<div class="a tf" style="left:1181px">年K</div>
<div class="a" style="left:1475px;top:70px;font-size:13px;font-weight:bold;color:#d3d5da;line-height:14px">0s</div>

<!-- toolbar 2 highlights -->
<div class="a" style="left:446px;top:93px;width:32px;height:32px;background:#34373d"></div>
<div class="a" style="left:574px;top:93px;width:32px;height:32px;background:#34373d"></div>
<div class="a" style="left:216px;top:101px;font-size:15px;color:#cba74e;line-height:16px">主</div>
<div class="a" style="left:247px;top:101px;font-size:15px;color:#cba74e;line-height:16px">大</div>
<div class="a" style="left:279px;top:101px;font-size:15px;color:#d4af4a;line-height:16px">筹</div>

<svg width="1662" height="130" style="position:absolute;left:0;top:0">
<g fill="none" stroke="#c6c8cd" stroke-width="1.2">
 <rect x="8.5" y="71.5" width="11" height="11"/>
 <polyline points="10,79 12.5,76.5 14.5,78 17.5,75"/>
 <rect x="186.5" y="73.5" width="11" height="9"/><line x1="186.5" y1="77" x2="197.5" y2="77"/><path d="M189.5 73.5 v-2 h5 v2"/>
 <rect x="245.5" y="71.5" width="4" height="11"/><rect x="251.5" y="71.5" width="4" height="5"/><rect x="251.5" y="78" width="4" height="4.5"/>
 <polyline points="309.5,71.5 303.5,77 309.5,82.5"/><polyline points="315.5,71.5 309.5,77 315.5,82.5"/><line x1="315.5" y1="71.5" x2="315.5" y2="82.5"/>
 <polyline points="392,76 395,79 398,76"/>
</g>
<g fill="none" stroke="#b89a50" stroke-width="1.2">
 <polygon points="73,70.5 77.5,72.3 79.5,77 77.5,81.7 73,83.5 68.5,81.7 66.5,77 68.5,72.3"/>
 <circle cx="73" cy="77" r="3.5"/><line x1="72" y1="78" x2="75.5" y2="74.5"/>
 <polygon points="133,70.5 139.5,75 137,83.5 129,83.5 126.5,75"/>
</g>
<polygon points="133.5,73.5 130.5,78 133,78 132,81.5 135.5,76.5 133,76.5" fill="#d9b84a"/>
<!-- right icons row1 -->
<g fill="none" stroke="#8e9197" stroke-width="1.2">
 <rect x="1503.5" y="72.5" width="12.5" height="9.5" rx="1"/><circle cx="1509.7" cy="77.2" r="2.6"/><path d="M1506.5 72.5 l1.5 -2 h3.5 l1.5 2"/>
 <path d="M1563 71.5 h10 v11 h-7"/><path d="M1561.5 80.5 h4 M1563.5 78.5 v4"/>
 <rect x="1590" y="71.5" width="12" height="11"/>
 <polygon points="1627,70.5 1632.5,73.7 1632.5,80.3 1627,83.5 1621.5,80.3 1621.5,73.7"/><circle cx="1627" cy="77" r="2"/>
 <path d="M1650 74 v-3 h3 M1650 71 l3 3 M1662 74 v-3 h-3 M1662 71 l-3 3 M1650 80 v3 h3 M1650 83 l3 -3"/>
</g>
<circle cx="1601" cy="81" r="3" fill="#b9bcc1"/><line x1="1599.3" y1="81" x2="1602.7" y2="81" stroke="#222" stroke-width="1"/>
<g fill="none" stroke="#2f7fd3" stroke-width="1.3">
 <path d="M1534 79.5 l7.5 -7.5 l2.5 2.5 l-7.5 7.5 h-2.5 z"/><line x1="1539" y1="82.5" x2="1545" y2="82.5"/>
</g>
<!-- row 2 -->
<g fill="none" stroke="#b8bbc1" stroke-width="1.2">
 <path d="M7 112 v-3 h18"/><rect x="9.5" y="104.5" width="3.5" height="3"/><rect x="14.5" y="104.5" width="3.5" height="3"/><rect x="19.5" y="104.5" width="3.5" height="3"/>
 <path d="M40.5 100.5 v16 M44.5 100.5 v16 M48.5 100.5 v16 M52.5 100.5 v16 M56 100.5 v16"/>
 <path d="M72 103.5 h16 M72 108.5 h16 M72 113.5 h16"/>
 <rect x="137.5" y="104" width="13" height="11.5"/><path d="M144 106.5 v6.5 M140.8 109.8 h6.5"/>
 <path d="M314 103 l-3 3 v7 M323 101.5 l3 3 v7 M320 117 l-4 0 l-3 -3 M315 110 l6 -5 l1 1 l-6 5 z"/>
 <path d="M344.5 116.5 l14 -15 M347 110 l3 3"/>
</g>
<g fill="#b8bbc1"><circle cx="171" cy="109" r="1.6"/><circle cx="176" cy="109" r="1.6"/><circle cx="181" cy="109" r="1.6"/>
 <circle cx="80" cy="103.5" r="1.6"/><circle cx="80" cy="113.5" r="1.6"/><circle cx="355" cy="112" r="2.3"/></g>
<line x1="199.5" y1="104" x2="199.5" y2="115" stroke="#2a2b30" stroke-width="1"/>
<line x1="375.5" y1="104" x2="375.5" y2="115" stroke="#2a2b30" stroke-width="1"/>
<g fill="none" stroke="#2d82d8" stroke-width="1.3">
 <path d="M391 116.5 v-15.5 h9"/><path d="M394 103.5 h11 v13 l-5.5 -3.5 l-5.5 3.5 z"/>
</g>
<g fill="none" stroke="#b8bbc1" stroke-width="1.2">
 <path d="M423 113 l10 -10 l4 4 l-10 10 z M426 110 l1.5 1.5 M428.5 107.5 l1.5 1.5 M431 105 l1.5 1.5"/>
 <path d="M488.5 104 h3 v9 h-3 z M490 101 v3 M490 113 v3 M493.5 105 h3 v8 h-3 z M495 102 v3 M495 113 v3 M498.5 104 h3 v9 h-3 z M500 101 v3 M500 113 v3 M491.5 111 l7 -5"/>
 <rect x="520.5" y="105.5" width="11" height="10"/><path d="M523.5 105.5 v-3 a2.5 2.5 0 0 1 5 0"/><line x1="526" y1="109" x2="526" y2="111.5"/>
 <path d="M562 116 h-10.5 v-14 h13 v8 M554 106 h7 M554 109 h4"/><path d="M559 116 l5 -5 l1.5 1.5 l-5 5 h-1.5 z"/>
 <path d="M614.5 102 h15 l-6 7 v8 l-3 -2 v-6 z"/>
 <path d="M646 104.5 h15 M649 104.5 v12 h9 v-12 M651 104.5 v-2 h5 v2 M651.5 108 v5 M655.5 108 v5"/>
</g>
<g fill="none" stroke="#3a8ae0" stroke-width="1.5">
 <path d="M455 116 l8 -9 l3 3 l-8 9 h-3 z M466 116 q2 -3 4 0 q2 3 4 0"/>
 <path d="M595.5 109.5 A5.5 5.5 0 1 1 590 104" stroke-width="2.6"/><path d="M595.5 109.5 h-3 M590 104 v3" stroke-width="1.5"/>
</g>
<text x="103" y="114" font-family="Liberation Sans" font-size="15.5" fill="#b8bbc1">Aa</text>
</svg>
<svg width="1662" height="929" style="position:absolute;left:0;top:0">
<g fill="none" stroke="#6d7076" stroke-width="1">
 <polyline points="11.5,133.5 15,137 11.5,140.5"/><polyline points="11.5,151.5 15,155 11.5,158.5"/>
</g>
<g fill="none" stroke="#7d8086" stroke-width="1.1">
 <path d="M12.5 629 q1.5 -1 1.5 -4 a3.7 3.7 0 0 1 7.4 0 q0 3 1.6 4 z"/><path d="M16 630.5 a1.7 1.7 0 0 0 3.4 0"/>
</g>
</svg>


<!-- chart overlays -->
<div class="a" style="left:6px;top:130px;width:14px;height:14px;border:1px solid #5d6066;border-radius:50%"></div>
<div class="a" style="left:6px;top:148px;width:14px;height:14px;border:1px solid #5d6066;border-radius:50%"></div>
<div class="a" style="left:1628px;top:167px;font-size:12px;color:#c9cbd0;line-height:13px">49000</div>
<svg width="12" height="10" style="position:absolute;left:309px;top:599px"><path d="M1.5 5 h7.5 M4.5 2 l-3 3 l3 3" fill="none" stroke="#c9cbd0" stroke-width="1.2"/></svg><div class="a" style="left:321px;top:597px;font-size:12px;color:#c9cbd0;line-height:13px">15438.8</div>

<div class="a ann" style="left:427px;top:322.5px">注意，底部不一定就是在一个平衡的水平线上中枢震荡，</div>
<div class="a ann" style="left:427px;top:345px">还可以是比较复杂的通道式上升，当然，一般来说，这种通道都是斜率很小的，</div>
<div class="a ann" style="left:427px;top:367.5px">充满激烈的震荡，具体的以后再说。</div>
<div class="a ann" style="left:800px;top:531px">比较复杂的通道式上升</div>
<div class="a ann" style="left:623.5px;top:577.5px">充满激烈的震荡</div>
<div class="a ann" style="left:1173px;top:500.5px">充满激烈的震荡</div>

<!-- pane headers -->
<div class="a" style="left:25px;top:618px;font-size:11.6px;color:#80838a;line-height:13px">MACD(12,26,9)</div>
<div class="a" style="left:132px;top:618px;font-size:11.2px;font-weight:bold;color:#d0d2d6;line-height:13px">DIF:9418.9</div>
<div class="a" style="left:195px;top:618px;font-size:11.2px;font-weight:bold;color:#dcd43c;line-height:13px">DEA:7419.7</div>
<div class="a" style="left:263px;top:618px;font-size:11.6px;color:#d4484d;line-height:13px">MACD:3998.4</div>
<div class="a" style="left:115px;top:623px;width:0;height:0;border-left:4px solid transparent;border-right:4px solid transparent;border-top:4px solid #80838a"></div>
<div class="a" style="left:11px;top:759px;font-size:11.2px;color:#80838a;line-height:13px">VOLUME</div>
<div class="a" style="left:67px;top:764px;width:0;height:0;border-left:4px solid transparent;border-right:4px solid transparent;border-top:4px solid #80838a"></div>
<div class="a" style="left:84px;top:759px;font-size:11.6px;color:#a9acb2;line-height:13px">VOLUME:62,656,774.0000</div>
<div class="a" style="left:229px;top:759px;font-size:11.6px;color:#6d7076;line-height:13px">预估成交量:105,366,112.2795</div>
<div class="a" style="left:393px;top:759px;font-size:11.6px;color:#c9cbd0;line-height:13px"><b style="color:#e3e5e8">MA(5)</b>:106,328,595.6000</div>
<div class="a" style="left:531px;top:759px;font-size:11.7px;font-weight:bold;color:#dcd43c;line-height:13px">MA(10):96,190,133.7000</div>

<!-- x axis -->
<div class="a xl" style="left:130px">10月</div>
<div class="a xl" style="left:247px">11月</div>
<div class="a xl" style="left:341px">12月</div>
<div class="a xl" style="left:432px;font-weight:bold;color:#9fa2a9">2023</div>
<div class="a xl" style="left:554px">2月</div>
<div class="a xl" style="left:647px">3月</div>
<div class="a xl" style="left:741px">4月</div>
<div class="a xl" style="left:835px">5月</div>
<div class="a xl" style="left:952px">6月</div>
<div class="a xl" style="left:1045px">7月</div>
<div class="a xl" style="left:1162px">8月</div>
<div class="a xl" style="left:1256px">9月</div>
<div class="a xl" style="left:1347px">10月</div>
<div class="a xl" style="left:1464px">11月</div>
<div class="a xl" style="left:1558px">12月</div>
<div class="a xl" style="left:1650px;font-weight:bold;color:#9fa2a9">2024</div>
</body></html>
